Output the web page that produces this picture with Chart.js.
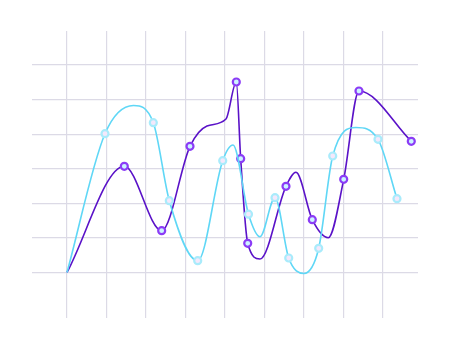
<!DOCTYPE html>
<html>
<head>
<meta charset="utf-8">
<script src="https://cdn.jsdelivr.net/npm/chart.js@4"></script>
<style>
  html, body { margin: 0; padding: 0; background: #fff; }
  #wrap { width: 450px; height: 349px; }
</style>
</head>
<body>
<div id="wrap"><canvas id="waveChart"></canvas></div>
<script>
// marked points of each series (x, y)
const cyanX = [9.62, 21.85, 25.9, 33.09, 39.42, 45.95, 52.66, 56.13, 63.72, 67.27, 78.73, 83.54];
const cyanY = [40.14, 43.32, 20.76, 3.41, 32.33, 16.86, 21.63, 4.19, 7.0, 33.69, 38.52, 21.34];

const purpleX = [14.51, 23.97, 31.14, 42.86, 43.97, 45.75, 55.44, 62.1, 70.05, 73.92, 87.16];
const purpleY = [30.71, 12.09, 36.5, 55.09, 32.91, 8.44, 24.93, 15.27, 26.95, 52.49, 37.94];

// unmarked bends of the curves (start, peaks, dips), also
const cyanBendX = [0, 16.84, 42.03, 48.86, 59.99, 73.16];
const cyanBendY = [0, 48.29, 36.87, 10.35, -0.29, 41.93];

const purpleBendX = [0, 35.44, 40.25, 48.86, 57.97, 66.15];
const purpleBendY = [0, 42.37, 44.39, 3.9, 28.98, 10.06];

const gridColor = '#dcdae6';

function buildPoints(xs, ys, bendXs, bendYs) {
    const marked = xs.map((x, i) => ({ x: x, y: ys[i], marked: true }));
    const bends = bendXs.map((x, i) => ({ x: x, y: bendYs[i], marked: false }));
    return marked.concat(bends).sort((a, b) => a.x - b.x);
}

function series(points, line, border, fill) {
    return {
        data: points,
        borderColor: line,
        borderWidth: 1.6,
        cubicInterpolationMode: 'monotone',
        pointRadius: c => (c.raw && c.raw.marked) ? 3.5 : 0,
        pointBorderWidth: 2.2,
        pointBorderColor: border,
        pointBackgroundColor: fill
    };
}

const ctx = document.getElementById('waveChart').getContext('2d');

let chart = new Chart(ctx, {
    type: 'line',
    data: {
        datasets: [
            series(buildPoints(cyanX, cyanY, cyanBendX, cyanBendY), '#5fd7f6', '#a9ebfb', '#f4e8fb'),
            series(buildPoints(purpleX, purpleY, purpleBendX, purpleBendY), '#5a12c8', '#8b3cf6', '#cbf3ff')
        ]
    },
    options: {
        responsive: true,
        maintainAspectRatio: false,
        animation: false,
        layout: { padding: { left: 32, right: 32, top: 31, bottom: 31 } },
        plugins: { legend: { display: false }, tooltip: { enabled: false } },
        scales: {
            x: {
                type: 'linear', min: -8.86, max: 88.86,
                ticks: { display: false, stepSize: 10, includeBounds: false },
                border: { display: false },
                grid: { color: gridColor, lineWidth: 1.2, drawTicks: false }
            },
            y: {
                min: -13.16, max: 69.84,
                ticks: { display: false, stepSize: 10, includeBounds: false },
                border: { display: false },
                grid: {
                    color: c => (c.tick && c.tick.value < 0) ? 'rgba(0,0,0,0)' : gridColor,
                    lineWidth: 1.2, drawTicks: false
                }
            }
        }
    }
});
</script>
</body>
</html>
